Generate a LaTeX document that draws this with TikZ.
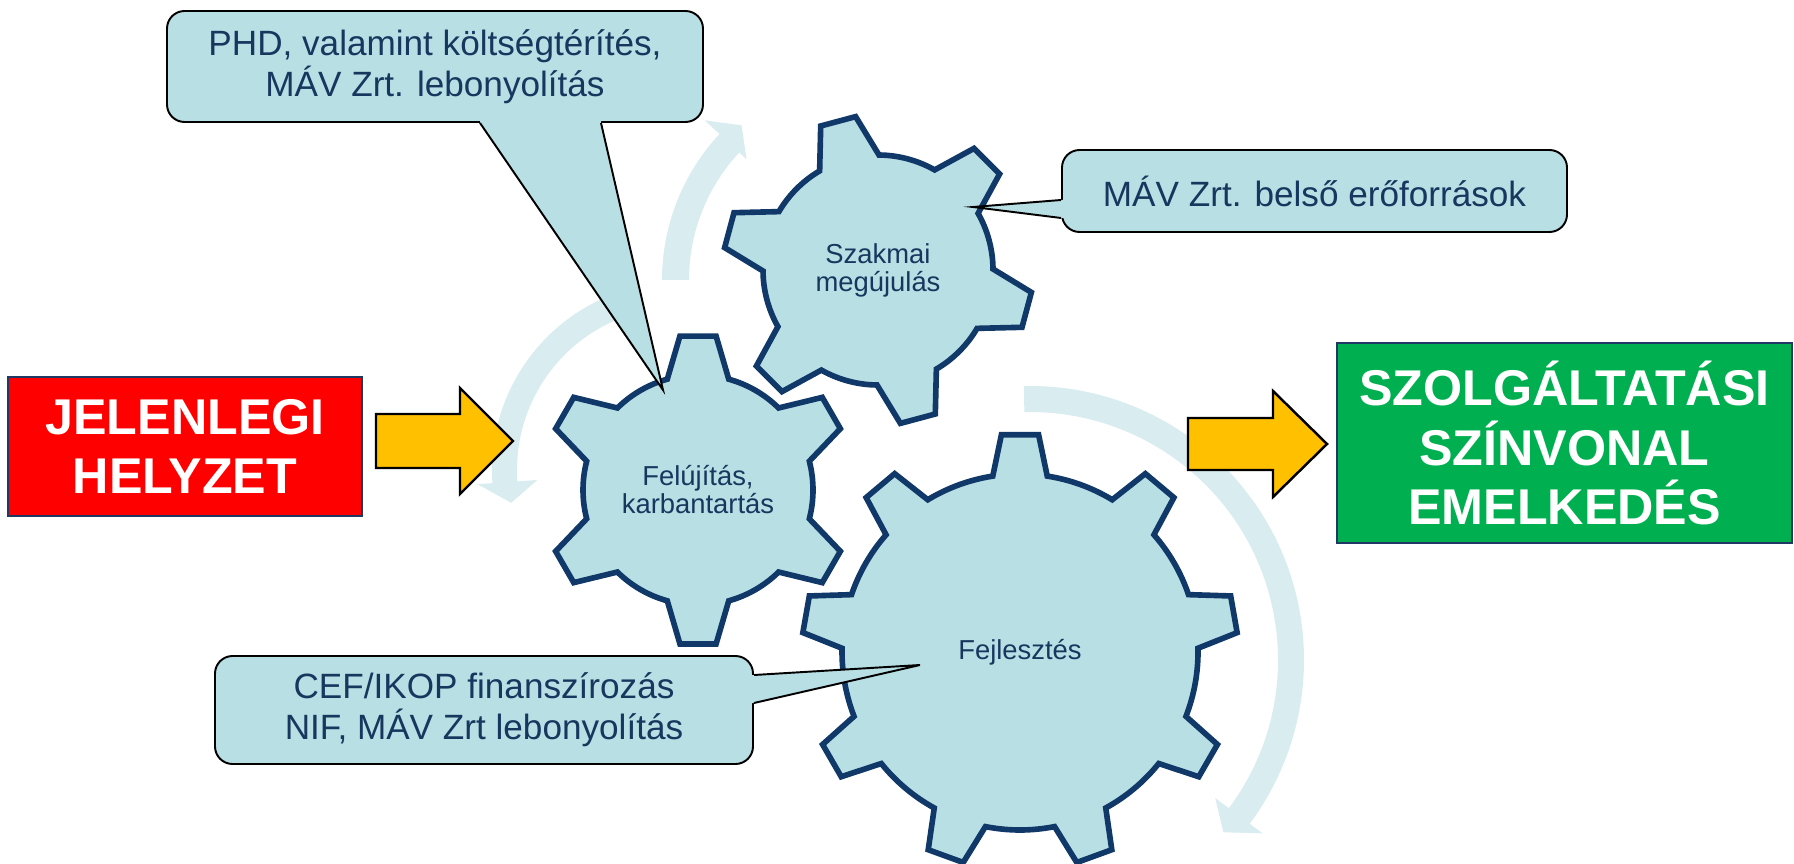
\documentclass[tikz,border=0pt]{standalone}
\usepackage{fontspec}
\setmainfont{Liberation Sans}
\usetikzlibrary{calc}
\definecolor{gearfill}{RGB}{184,223,228}
\definecolor{gearline}{RGB}{16,56,104}
\definecolor{navytext}{RGB}{23,55,94}
\definecolor{boxline}{RGB}{31,56,100}
\definecolor{swirl}{RGB}{217,236,239}
\definecolor{arrowgold}{RGB}{255,192,0}
\definecolor{boxred}{RGB}{255,0,0}
\definecolor{boxgreen}{RGB}{0,176,80}
\newcommand{\pxu}{0.02cm}
\tikzset{
  gear/.style={fill=gearfill,draw=gearline,line width=3.2pt},
  geartext/.style={text=navytext,align=center,font=\fontsize{15.6}{15.9}\selectfont},
  callout/.style={fill=gearfill,draw=black,line width=1.1pt,rounded corners=10pt,
    align=center,text=navytext,inner sep=0pt,font=\fontsize{20}{23.2}\selectfont},
  calloutline/.style={draw=black,line width=1.1pt},
  goalbox/.style={draw=boxline,line width=1.1pt,text=white,align=center,inner sep=0pt,
    font=\bfseries\fontsize{28.6}{34}\selectfont},
  swirlarrow/.style={fill=swirl},
  fatarrow/.style={fill=arrowgold,draw=black,line width=1.4pt,line join=miter}
}
% #1 centre, #2 teeth, #3 first tooth angle, #4 root radius, #5 tip radius,
% #6 half angle at root, #7 half angle at tip
\newcommand{\gearshape}[7]{%
  \filldraw[gear,shift={#1}] ({#3-#6}:#4)
    \foreach \k [evaluate=\k as \a using #3+(\k-1)*360/#2] in {1,...,#2} {
      -- ({\a-#7}:#5) -- ({\a+#7}:#5) -- ({\a+#6}:#4)
      arc[start angle={\a+#6}, end angle={\a+360/#2-#6}, radius=#4]
    } -- cycle;}

\begin{document}
\begin{tikzpicture}[x=0.02cm,y=0.02cm]
\useasboundingbox (0,0) rectangle (1794,863);

\coordinate (g1) at (698,373);
\coordinate (g2) at (878,593);
\coordinate (g3) at (1020,211);

% pale turning arrows
\fill[swirlarrow,shift={(680,393)}]
  (108:188) arc[start angle=108,end angle=184,radius=188] --
  (184:203) -- (191:172) -- (184:143) --
  (184:163) arc[start angle=184,end angle=108,radius=163] -- cycle;
\fill[swirlarrow,shift={(876,583)}]
  (180:214) arc[start angle=180,end angle=137,radius=214] --
  (137:234) -- (131:205) -- (137:177) --
  (137:187) arc[start angle=137,end angle=180,radius=187] -- cycle;
\fill[swirlarrow,shift={(1030,203)}]
  (91.3:274) arc[start angle=91.3,end angle=-36.7,radius=274] --
  (-36.7:290) -- (-41.7:259) -- (-36.7:231) --
  (-36.7:248) arc[start angle=-36.7,end angle=91.3,radius=248] -- cycle;

% yellow arrows
\draw[fatarrow]
  (376,449) -- (460,449) -- (460,475) -- (513,422) --
  (460,369) -- (460,395) -- (376,395) -- cycle;
\draw[fatarrow]
  (1188,445) -- (1273,445) -- (1273,472) -- (1327,419) --
  (1273,366) -- (1273,393) -- (1188,393) -- cycle;

% gears
\gearshape{(g1)}{6}{30}{115}{155}{15.5}{6.7}
\gearshape{(g2)}{6}{45}{115}{155}{15.5}{6.7}
\gearshape{(g3)}{9}{90}{178}{218}{8.8}{4.9}

\node[geartext] (felujitas) at (g1) {Felújítás,\\karbantartás};
\node[geartext] (szakmai) at (g2) {Szakmai\\megújulás};
\node[geartext] (fejlesztes) at (g3) {Fejlesztés};

% start and goal
\node[goalbox,fill=boxred,minimum width=354*\pxu,minimum height=139*\pxu]
  (jelenlegi) at (185,416.5) {JELENLEGI\\HELYZET};
\node[goalbox,fill=boxgreen,minimum width=455*\pxu,minimum height=200*\pxu]
  (szolgaltatas) at (1564.5,420) {SZOLGÁLTATÁSI\\SZÍNVONAL\\EMELKEDÉS};

% callouts
\node[callout,minimum width=536*\pxu,minimum height=111*\pxu]
  (phd) at (435,796.5) {PHD, valamint költségtérítés,\\MÁV Zrt. lebonyolítás};
\node[callout,minimum width=505*\pxu,minimum height=82*\pxu]
  (belso) at (1314.5,672) {MÁV Zrt. belső erőforrások};
\node[callout,minimum width=538*\pxu,minimum height=108*\pxu]
  (cef) at (484,153) {CEF/IKOP finanszírozás\\NIF, MÁV Zrt lebonyolítás};

\coordinate (phdtip) at (663,473);
\coordinate (belsotip) at (973,656);
\coordinate (ceftip) at (920,198);

\fill[gearfill]
  ([shift={(45,3)}]phd.south) -- ([shift={(45,0)}]phd.south) -- (phdtip) --
  ([shift={(166,0)}]phd.south) -- ([shift={(166,3)}]phd.south) -- cycle;
\draw[calloutline]
  ([shift={(45,0)}]phd.south) -- (phdtip) -- ([shift={(166,0)}]phd.south);

\fill[gearfill]
  ([shift={(3,-9)}]belso.west) -- ([shift={(0,-9)}]belso.west) -- (belsotip) --
  ([shift={(0,-27)}]belso.west) -- ([shift={(3,-27)}]belso.west) -- cycle;
\draw[calloutline]
  ([shift={(0,-9)}]belso.west) -- (belsotip) -- ([shift={(0,-27)}]belso.west);

\fill[gearfill]
  ([shift={(-3,35)}]cef.east) -- ([shift={(0,35)}]cef.east) -- (ceftip) --
  ([shift={(0,7)}]cef.east) -- ([shift={(-3,7)}]cef.east) -- cycle;
\draw[calloutline]
  ([shift={(0,35)}]cef.east) -- (ceftip) -- ([shift={(0,7)}]cef.east);
\end{tikzpicture}
\end{document}
